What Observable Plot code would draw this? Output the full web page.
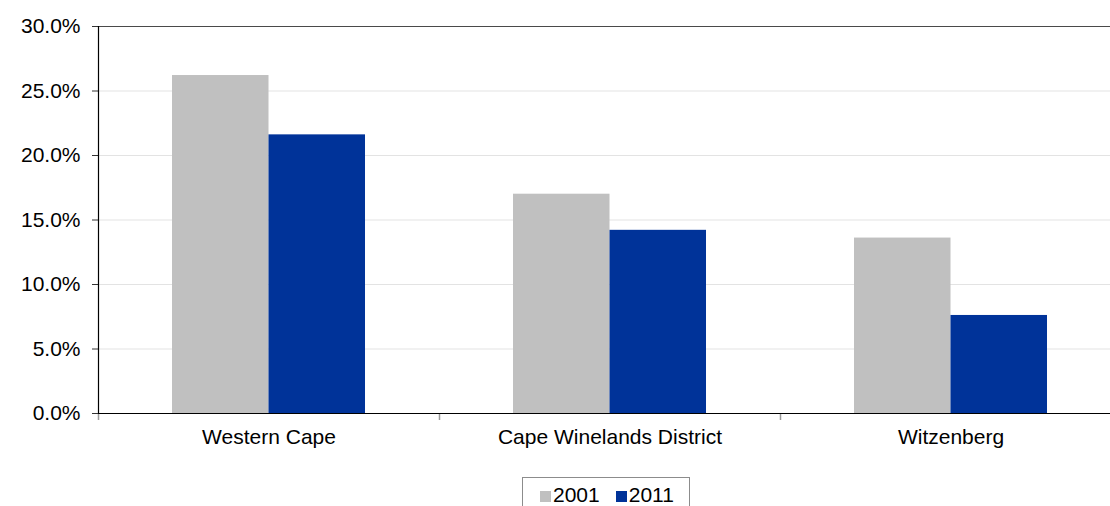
<!DOCTYPE html>
<html><head><meta charset="utf-8">
<script src="https://cdn.jsdelivr.net/npm/d3@7"></script>
<script src="https://cdn.jsdelivr.net/npm/@observablehq/plot@0.6"></script>
<style>
body{margin:0;background:#fff;overflow:hidden;font-family:"Liberation Sans",Arial,sans-serif;}
#wrap{position:relative;width:1110px;height:506px;overflow:hidden;}
#legend{position:absolute;left:522px;top:477px;width:168px;height:40px;border:1px solid #8c8c8c;box-sizing:border-box;font-size:21px;color:#000;display:flex;align-items:flex-start;padding-left:17px;padding-top:5px;}
#legend .sw{display:inline-block;width:11px;height:11px;margin-right:2px;margin-top:8px;}
#legend .item{display:flex;align-items:flex-start;margin-right:16px;line-height:24px;}
</style>
</head><body>
<div id="wrap"><div id="chart"></div><div id="legend"></div></div>
<script>
const categories = ["Western Cape", "Cape Winelands District", "Witzenberg"];
const years = ["2001", "2011"];
const values2001 = [26.2, 17.0, 13.6];
const values2011 = [21.6, 14.2, 7.6];
const yTicks = [0, 5, 10, 15, 20, 25, 30];
const colors = ["#c0c0c0", "#003399"];

const rows2001 = categories.map((c, i) => ({category: c, year: years[0], value: values2001[i]}));
const rows2011 = categories.map((c, i) => ({category: c, year: years[1], value: values2011[i]}));

const W = 1110, H = 470, ML = 98, MR = -11, MT = 26, MB = 57;
const step = (W - ML - MR) / categories.length;
const outer = step * 0.217, half = step / 2;

const chart = Plot.plot({
  width: W, height: H,
  marginLeft: ML, marginRight: MR, marginTop: MT, marginBottom: MB,
  style: {fontFamily: "Liberation Sans, Arial, sans-serif", fontSize: "21px", color: "#000", background: "#fff", overflow: "visible"},
  x: {type: "band", domain: categories, padding: 0, label: null},
  y: {domain: [0, 30], label: null},
  marks: [
    Plot.gridY(yTicks.slice(1, -1), {stroke: "#e3e3e3", strokeOpacity: 1}),
    Plot.ruleY([30], {stroke: "#4a4a4a", strokeWidth: 1.2}),
    Plot.barY(rows2001, {x: "category", y: "value", fill: colors[0], insetLeft: outer, insetRight: half}),
    Plot.barY(rows2011, {x: "category", y: "value", fill: colors[1], insetLeft: half, insetRight: outer}),
    Plot.axisX({tickSize: 7, text: null, dx: -half, stroke: "#9a9a9a", strokeWidth: 1.5, label: null}),
    Plot.axisX({tickSize: 0, tickPadding: 16, fontSize: 21, label: null}),
    Plot.axisY({ticks: yTicks, tickFormat: d => d.toFixed(1) + "%", tickSize: 6, tickPadding: 12, fontSize: 21, stroke: "#333", label: null}),
    Plot.ruleY([0], {stroke: "#000", strokeWidth: 1.2}),
    Plot.ruleX([categories[0]], {dx: -half, y1: 0, y2: 30, stroke: "#000", strokeWidth: 1.2})
  ]
});
document.getElementById("chart").appendChild(chart);

const legend = document.getElementById("legend");
years.forEach((y, i) => {
  const item = document.createElement("div");
  item.className = "item";
  item.innerHTML = `<span class="sw" style="background:${colors[i]}"></span><span>${y}</span>`;
  legend.appendChild(item);
});
</script>
</body></html>
